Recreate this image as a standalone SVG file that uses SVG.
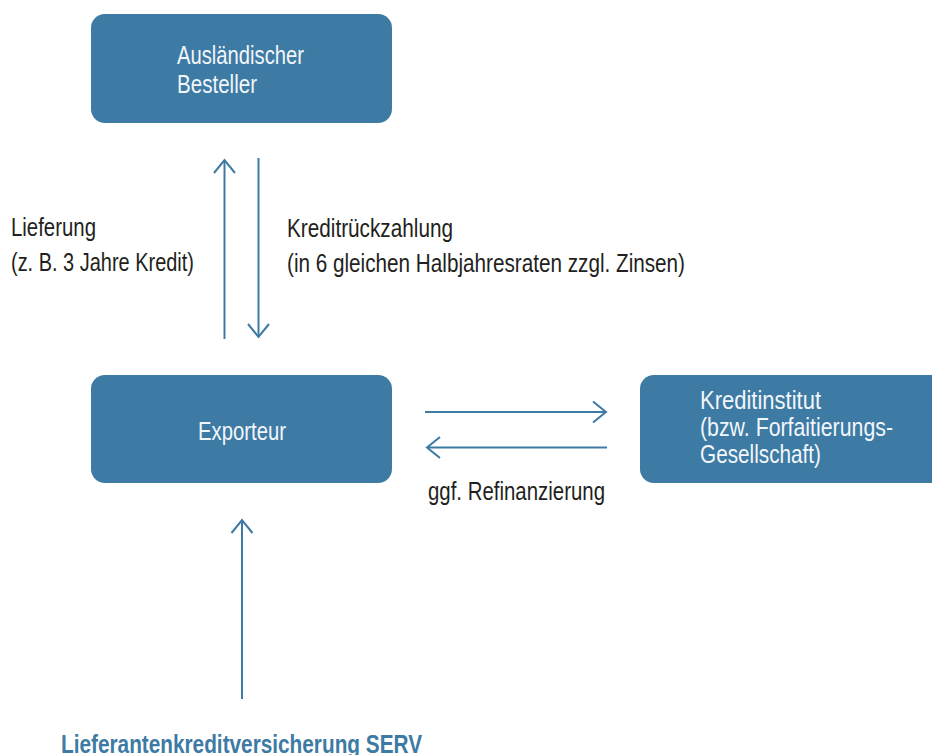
<svg xmlns="http://www.w3.org/2000/svg" width="932" height="755" viewBox="0 0 932 755">
<style>
.box{fill:#3d7aa4}
.bt{fill:#f2f6fa;font-family:"Liberation Sans",Arial,sans-serif;font-size:25px}
.lt{fill:#231f20;font-family:"Liberation Sans",Arial,sans-serif;font-size:25px}
.serv{fill:#3d7aa4;font-family:"Liberation Sans",Arial,sans-serif;font-size:25px;font-weight:bold}
.ar{fill:none;stroke:#3d7aa4;stroke-width:2}
</style>
<defs>
<marker id="ah" markerUnits="userSpaceOnUse" markerWidth="30" markerHeight="30" viewBox="-15 -15 30 30" refX="0" refY="0" orient="auto">
<path d="M-13,-10.5 L0,0 L-13,10.5" fill="none" stroke="#3d7aa4" stroke-width="2"/>
</marker>
</defs>
<g id="besteller">
<rect class="box" x="91" y="14" width="301" height="109" rx="14"/>
<text class="bt" x="177" y="64" textLength="127" lengthAdjust="spacingAndGlyphs">Ausländischer</text>
<text class="bt" x="177" y="93" textLength="80" lengthAdjust="spacingAndGlyphs">Besteller</text>
</g>
<g id="exporteur">
<rect class="box" x="91" y="375" width="301" height="108" rx="14"/>
<text class="bt" x="198" y="440" textLength="88" lengthAdjust="spacingAndGlyphs">Exporteur</text>
</g>
<g id="kreditinstitut">
<rect class="box" x="640" y="375" width="320" height="108" rx="14"/>
<text class="bt" x="700" y="409" textLength="121" lengthAdjust="spacingAndGlyphs">Kreditinstitut</text>
<text class="bt" x="700" y="436" textLength="193" lengthAdjust="spacingAndGlyphs">(bzw. Forfaitierungs-</text>
<text class="bt" x="700" y="463" textLength="121" lengthAdjust="spacingAndGlyphs">Gesellschaft)</text>
</g>
<g id="serv">
<text class="serv" x="61" y="753" textLength="361" lengthAdjust="spacingAndGlyphs">Lieferantenkreditversicherung SERV</text>
</g>
<g id="connectors">
<line class="ar" x1="224.5" y1="339" x2="224.5" y2="160" marker-end="url(#ah)"/>
<line class="ar" x1="258.5" y1="158" x2="258.5" y2="337" marker-end="url(#ah)"/>
<line class="ar" x1="425" y1="412" x2="606" y2="412" marker-end="url(#ah)"/>
<line class="ar" x1="607" y1="447.5" x2="427" y2="447.5" marker-end="url(#ah)"/>
<line class="ar" x1="242" y1="699" x2="242" y2="520" marker-end="url(#ah)"/>
</g>
<g id="labels">
<text class="lt" x="11" y="236" textLength="85" lengthAdjust="spacingAndGlyphs">Lieferung</text>
<text class="lt" x="11" y="271" textLength="183" lengthAdjust="spacingAndGlyphs">(z. B. 3 Jahre Kredit)</text>
<text class="lt" x="287" y="237" textLength="166" lengthAdjust="spacingAndGlyphs">Kreditrückzahlung</text>
<text class="lt" x="287" y="272" textLength="398" lengthAdjust="spacingAndGlyphs">(in 6 gleichen Halbjahresraten zzgl. Zinsen)</text>
<text class="lt" x="428" y="500" textLength="177" lengthAdjust="spacingAndGlyphs">ggf. Refinanzierung</text>
</g>
</svg>
